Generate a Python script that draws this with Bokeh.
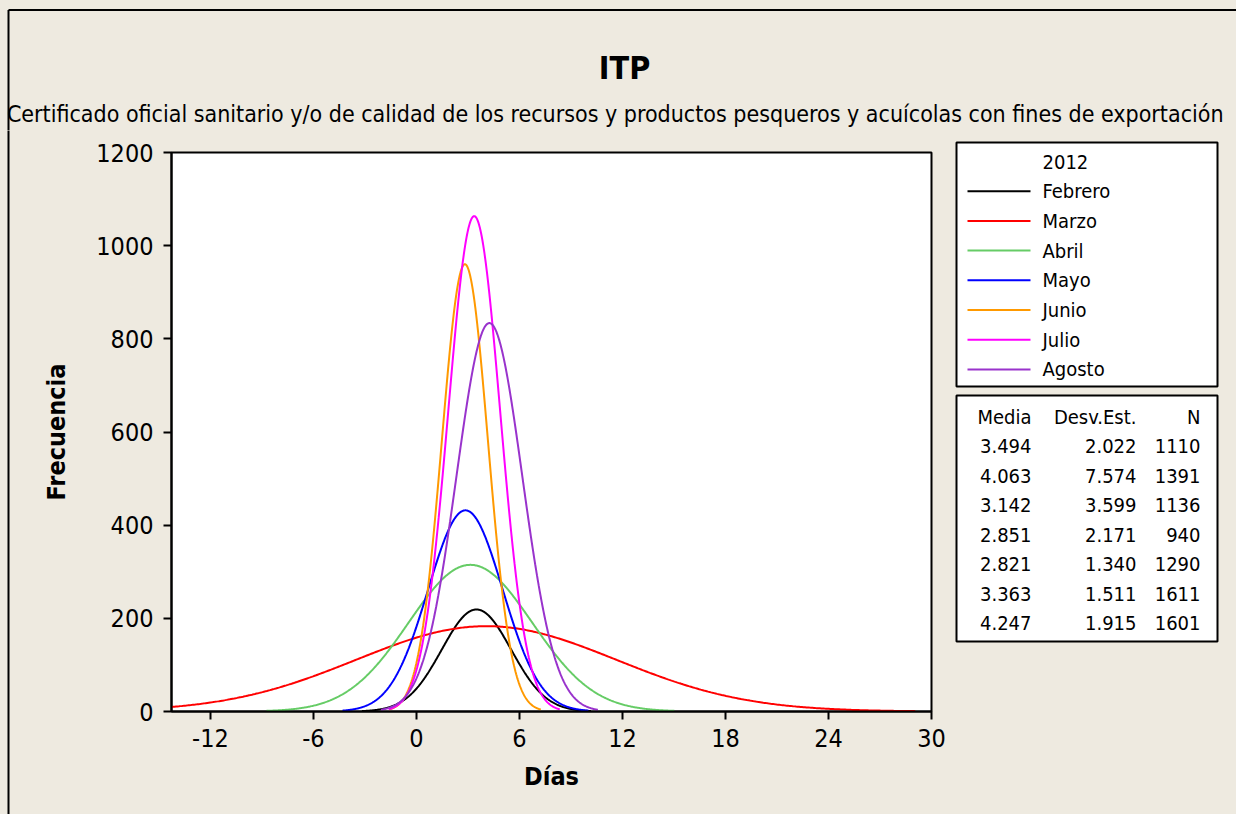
import numpy as np
from bokeh.plotting import figure
from bokeh.layouts import column, row
from bokeh.models import Range1d, FixedTicker
from bokeh.core.properties import value
from bokeh.embed import file_html
from bokeh.resources import INLINE

months = ["Febrero", "Marzo", "Abril", "Mayo", "Junio", "Julio", "Agosto"]
media = [3.494, 4.063, 3.142, 2.851, 2.821, 3.363, 4.247]
desv_est = [2.022, 7.574, 3.599, 2.171, 1.340, 1.511, 1.915]
n_obs = [1110, 1391, 1136, 940, 1290, 1611, 1601]
bin_width = [1.0, 2.5, 2.5, 2.5, 2.5, 2.5, 2.5]   # histogram bin width used to scale each fit
colors = ["#000000", "#FF0000", "#66CC66", "#0000FF", "#FF9900", "#FF00FF", "#9933CC"]
x_ticks = [-12, -6, 0, 6, 12, 18, 24, 30]
y_ticks = [0, 200, 400, 600, 800, 1000, 1200]
legend_year = "2012"
table_header = ["Media", "Desv.Est.", "N"]
title_text = "ITP"
subtitle_text = ("Certificado oficial sanitario y/o de calidad de los recursos y "
                 "productos pesqueros y acuícolas con  fines de exportación")

FONT = "DejaVu Sans Condensed"
BG = "#EEEAE0"

PAGE_W, PAGE_H = 1236, 814
TOP_H = 130          # height of the title strip
STRIP_W = 10         # narrow strip carrying the left border line
MAIN_W = 941         # main plot figure width
SIDE_W = PAGE_W - STRIP_W - MAIN_W
BODY_H = PAGE_H - TOP_H


def blank(width, height, x0, x1, y_bottom, y_top):
    f = figure(width=width, height=height, output_backend="svg", toolbar_location=None,
               x_range=Range1d(x0, x1), y_range=Range1d(y_bottom, y_top),
               x_axis_location=None, y_axis_location=None,
               min_border=0, min_border_left=0, min_border_right=0,
               min_border_top=0, min_border_bottom=0,
               background_fill_color=BG, border_fill_color=BG)
    f.grid.visible = False
    f.outline_line_color = None
    f.frame_align = False
    return f


# ---------------- title strip ------------------------------------------------
top = blank(PAGE_W, TOP_H, 0, PAGE_W, TOP_H, 0)
top.segment(x0=[8, 8], y0=[9.5, 9.5], x1=[PAGE_W + 5, 8], y1=[9.5, TOP_H + 5],
            line_color="black", line_width=2)
top.text(x=[624], y=[67], text=[title_text], text_align="center", text_baseline="middle",
         text_font=value(FONT), text_font_size=value("32px"), text_font_style="bold",
         text_color="black")
top.text(x=[618], y=[113], text=[subtitle_text], text_align="center",
         text_baseline="alphabetic", text_font=value(FONT),
         text_font_size=value("23px"), text_color="black")

# ---------------- left border strip -------------------------------------------
strip = blank(STRIP_W, BODY_H, 0, STRIP_W, PAGE_H, TOP_H)
strip.segment(x0=[8], y0=[TOP_H - 5], x1=[8], y1=[PAGE_H + 5],
              line_color="black", line_width=2)

# ---------------- main plot ---------------------------------------------------
FRAME_L, FRAME_R, FRAME_T, FRAME_B = 171, 931, 152, 711   # page pixels
p = figure(width=MAIN_W, height=BODY_H, output_backend="svg", toolbar_location=None,
           x_range=Range1d(-14.27, 30), y_range=Range1d(0, 1200),
           min_border_left=FRAME_L - STRIP_W,
           min_border_right=STRIP_W + MAIN_W - FRAME_R,
           min_border_top=FRAME_T - TOP_H,
           min_border_bottom=PAGE_H - FRAME_B,
           background_fill_color="white", border_fill_color=BG)
p.frame_align = False
p.grid.visible = False
p.outline_line_color = "black"
p.outline_line_width = 2

for ax in (p.xaxis[0], p.yaxis[0]):
    ax.axis_line_width = 2
    ax.major_tick_line_width = 2
    ax.major_tick_out = 8
    ax.major_tick_in = 0
    ax.minor_tick_out = 0
    ax.minor_tick_in = 0
    ax.major_label_text_font = FONT
    ax.major_label_text_font_size = "25px"
    ax.major_label_text_color = "black"
    ax.axis_label_text_font = FONT
    ax.axis_label_text_font_size = "25px"
    ax.axis_label_text_font_style = "bold"
    ax.axis_label_text_color = "black"

p.xaxis.ticker = FixedTicker(ticks=x_ticks)
p.yaxis.ticker = FixedTicker(ticks=y_ticks)
p.xaxis.major_label_overrides = {t: str(t) for t in x_ticks}
p.xaxis.axis_label = "Días"
p.yaxis.axis_label = "Frecuencia"
p.xaxis.major_label_standoff = 9
p.xaxis.axis_label_standoff = 12
p.yaxis.major_label_standoff = 10
p.yaxis.axis_label_standoff = 22

# fitted normal curves (Minitab style: N * bin width * normal density)
for m, s, n, bw, c in zip(media, desv_est, n_obs, bin_width, colors):
    x = np.linspace(max(m - 3.3 * s, -14.27), min(m + 3.3 * s, 30), 500)
    y = n * bw * np.exp(-0.5 * ((x - m) / s) ** 2) / (s * np.sqrt(2 * np.pi))
    p.line(x, y, line_color=c, line_width=2)

# ---------------- side panel: legend + summary table --------------------------
x_off = STRIP_W + MAIN_W
side = blank(SIDE_W, BODY_H, x_off, PAGE_W, PAGE_H, TOP_H)
side.quad(left=[956, 956], right=[1217, 1217], top=[142, 395], bottom=[386, 641],
          fill_color="white", line_color="black", line_width=2)

row_pitch = 29.7
leg_y = [161 + row_pitch * (i + 1) for i in range(len(months))]
side.segment(x0=[967] * len(months), x1=[1030] * len(months), y0=leg_y, y1=leg_y,
             line_color=colors, line_width=2)
side.text(x=[1042] * (len(months) + 1), y=[161] + leg_y, text=[legend_year] + months,
          text_align="left", text_baseline="middle", text_font=value(FONT),
          text_font_size=value("20px"), text_color="black")

col_right = [1031, 1136, 1200]
tab_pitch = 29.5
tx, ty, tt = [], [], []
for xr, h in zip(col_right, table_header):
    tx.append(xr); ty.append(416); tt.append(h)
for i, (m, s, n) in enumerate(zip(media, desv_est, n_obs)):
    yy = 416 + tab_pitch * (i + 1)
    for xr, t in zip(col_right, (f"{m:.3f}", f"{s:.3f}", f"{n}")):
        tx.append(xr); ty.append(yy); tt.append(t)
side.text(x=tx, y=ty, text=tt, text_align="right", text_baseline="middle",
          text_font=value(FONT), text_font_size=value("20px"), text_color="black")

body = row(strip, p, side, spacing=0, styles={"background-color": BG})
layout = column(top, body, spacing=0, styles={"background-color": BG})
open("out.html", "w").write(file_html(layout, INLINE))
